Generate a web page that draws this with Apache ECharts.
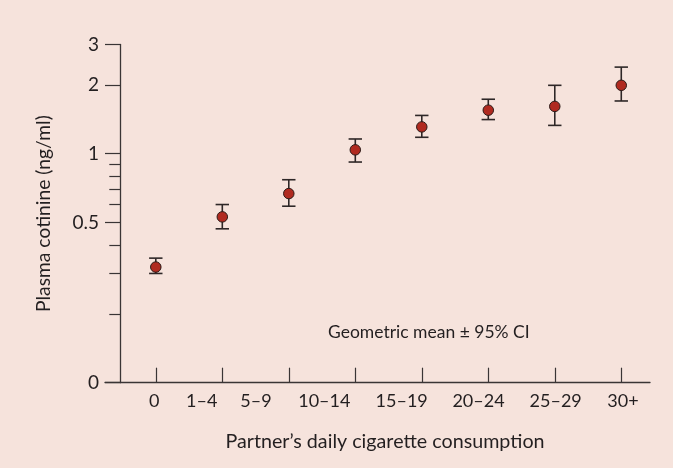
<!DOCTYPE html>
<html>
<head>
<meta charset="utf-8">
<script src="https://cdn.jsdelivr.net/npm/echarts@6/dist/echarts.min.js"></script>
<style>
html,body{margin:0;padding:0;background:#f6e3dc;}
#c{width:673px;height:468px;}
</style>
</head>
<body>
<div id="c"></div>
<script>
// ---- data ----
const categories = ['0', '1–4', '5–9', '10–14', '15–19', '20–24', '25–29', '30+'];
const means = [0.32, 0.53, 0.67, 1.04, 1.31, 1.55, 1.61, 1.99];
const lower = [0.30, 0.47, 0.59, 0.92, 1.18, 1.41, 1.33, 1.70];
const upper = [0.35, 0.60, 0.77, 1.16, 1.47, 1.73, 1.99, 2.39];
const yTickValues = [3, 2, 1, 0.5, 0.1];
const yTickLabels = ['3', '2', '1', '0.5', '0'];
const yMinorTicks = [0.9, 0.8, 0.7, 0.6, 0.4, 0.3, 0.2];
const yMin = 0.1, yMax = 3;
// layout: label centres along the x axis (in category-index units)
const xLabelPos = [-0.023, 0.690, 1.507, 2.534, 3.698, 4.853, 6.014, 7.026];

const L = v => Math.log10(v);
const FONT = 'Lato';
const TXT = '#231f20';
const AX = '#3a3535';

const yMajor = yTickValues.map(L);
const yMinorL = yMinorTicks.map(L);
const xMin = -0.764, xMax = 7.432;

const chart = echarts.init(document.getElementById('c'));
chart.setOption({
  animation: false,
  backgroundColor: '#f6e3dc',
  grid: {left: 105, right: 23, top: 44.5, bottom: 85.3},
  xAxis: [{
    type: 'value', min: xMin, max: xMax,
    axisLine: {show: true, onZero: false, lineStyle: {color: AX, width: 1.3}},
    axisTick: {show: true, inside: true, length: 15, customValues: categories.map((c, i) => i),
               lineStyle: {color: AX, width: 1.2}},
    axisLabel: {show: false},
    splitLine: {show: false},
    name: 'Partner’s daily cigarette consumption',
    nameLocation: 'middle', nameGap: 49,
    nameTextStyle: {fontFamily: FONT, fontSize: 19.7, color: TXT, padding: [0, 0, 0, 15]}
  }, {
    type: 'value', min: xMin, max: xMax, position: 'bottom',
    axisLine: {show: false, onZero: false}, axisTick: {show: false}, splitLine: {show: false},
    axisLabel: {
      show: true, customValues: xLabelPos, margin: 9,
      fontFamily: FONT, fontSize: 18, color: TXT,
      formatter: v => {
        let k = 0, best = Infinity;
        xLabelPos.forEach((p, i) => { const d = Math.abs(p - v); if (d < best) { best = d; k = i; } });
        return categories[k];
      }
    }
  }],
  yAxis: [{
    type: 'value', position: 'left', min: L(yMin), max: L(yMax), offset: -15,
    axisLine: {show: true, onZero: false, lineStyle: {color: AX, width: 1.3}},
    axisTick: {show: true, length: 15, customValues: yMajor, lineStyle: {color: AX, width: 1.2}},
    axisLabel: {
      show: true, customValues: yMajor, margin: 21,
      fontFamily: FONT, fontSize: 19, color: TXT,
      formatter: v => {
        let k = 0, best = Infinity;
        yMajor.forEach((p, i) => { const d = Math.abs(p - v); if (d < best) { best = d; k = i; } });
        return yTickLabels[k];
      }
    },
    splitLine: {show: false},
    name: 'Plasma cotinine (ng/ml)',
    nameLocation: 'middle', nameGap: 67,
    nameTextStyle: {fontFamily: FONT, fontSize: 19.3, color: TXT}
  }, {
    type: 'value', position: 'left', min: L(yMin), max: L(yMax), offset: -15,
    axisLine: {show: false, onZero: false},
    axisTick: {show: true, length: 10.7, customValues: yMinorL, lineStyle: {color: AX, width: 1.2}},
    axisLabel: {show: false},
    splitLine: {show: false}
  }],
  graphic: [{
    type: 'text', left: 328, top: 323,
    style: {text: 'Geometric mean ± 95% CI', font: '17.5px ' + FONT, fill: TXT}
  }],
  series: [{
    type: 'custom',
    xAxisIndex: 0, yAxisIndex: 0,
    data: categories.map((c, i) => [i, L(lower[i]), L(upper[i])]),
    renderItem: (params, api) => {
      const x = api.value(0);
      const lo = api.coord([x, api.value(1)]);
      const hi = api.coord([x, api.value(2)]);
      const hw = 6.7;
      const st = {stroke: '#2e2727', lineWidth: 1.6};
      return {type: 'group', children: [
        {type: 'line', shape: {x1: lo[0], y1: lo[1], x2: hi[0], y2: hi[1]}, style: st},
        {type: 'line', shape: {x1: lo[0] - hw, y1: lo[1], x2: lo[0] + hw, y2: lo[1]}, style: st},
        {type: 'line', shape: {x1: hi[0] - hw, y1: hi[1], x2: hi[0] + hw, y2: hi[1]}, style: st}
      ]};
    },
    z: 2
  }, {
    type: 'scatter',
    xAxisIndex: 0, yAxisIndex: 0,
    data: categories.map((c, i) => [i, L(means[i])]),
    symbol: 'circle', symbolSize: 10.5,
    itemStyle: {color: '#b02a20', borderColor: '#2b1a17', borderWidth: 1, opacity: 1},
    z: 3
  }]
});
</script>
</body>
</html>
